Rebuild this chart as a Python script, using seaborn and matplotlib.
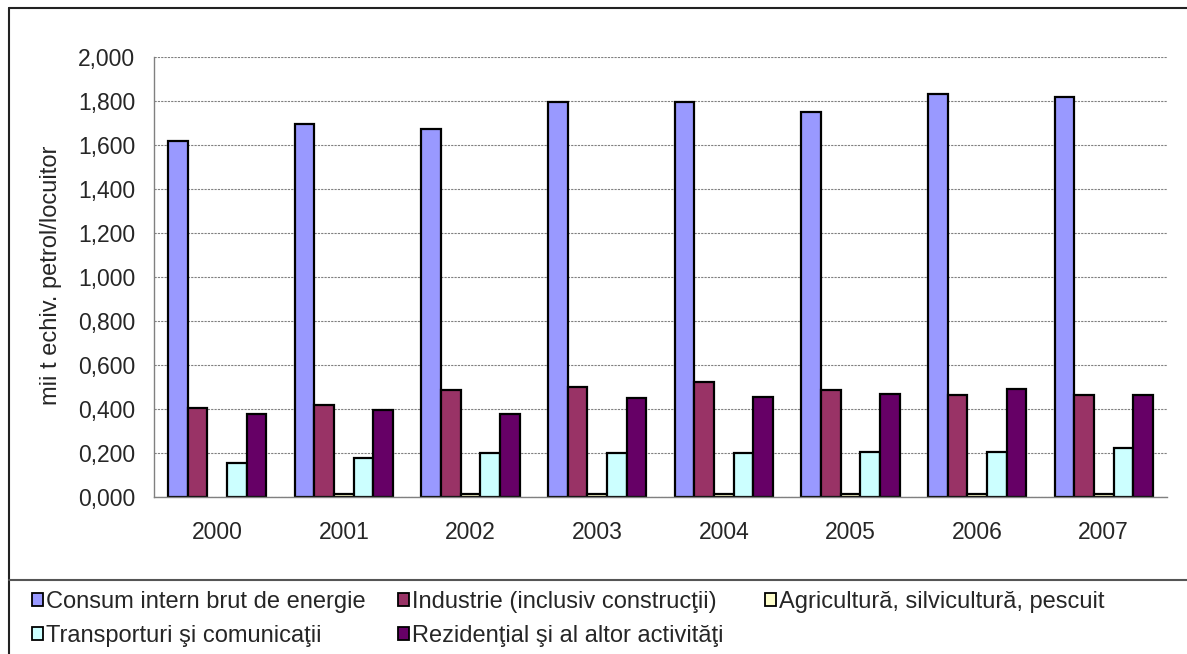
import numpy as np
import pandas as pd
import matplotlib
matplotlib.use("Agg")
import matplotlib.pyplot as plt
import matplotlib.ticker as mticker
from matplotlib.patches import Rectangle
from matplotlib.lines import Line2D
import seaborn as sns

# Data (mii t echiv. petrol / locuitor)
years = ["2000", "2001", "2002", "2003", "2004", "2005", "2006", "2007"]
series_names = [
    "Consum intern brut de energie",
    "Industrie (inclusiv construcţii)",
    "Agricultură, silvicultură, pescuit",
    "Transporturi şi comunicaţii",
    "Rezidenţial şi al altor activităţi",
]
consum = [1.620, 1.694, 1.672, 1.795, 1.797, 1.750, 1.832, 1.818]
industrie = [0.403, 0.418, 0.486, 0.501, 0.521, 0.486, 0.465, 0.465]
agricultura = [np.nan, 0.013, 0.014, 0.012, 0.012, 0.012, 0.012, 0.012]
transport = [0.155, 0.178, 0.198, 0.198, 0.201, 0.204, 0.205, 0.222]
rezidential = [0.377, 0.395, 0.377, 0.449, 0.456, 0.468, 0.493, 0.465]
colors = ["#9999FF", "#993366", "#FFFFCC", "#CCFFFF", "#660066"]

all_values = [consum, industrie, agricultura, transport, rezidential]
rows = []
for name, vals in zip(series_names, all_values):
    for y, v in zip(years, vals):
        rows.append({"An": y, "Serie": name, "Valoare": v})
df = pd.DataFrame(rows)

sns.set_style("white")
plt.rcParams["font.family"] = ["Liberation Sans", "DejaVu Sans"]

W, H = 1187, 654
fig = plt.figure(figsize=(W / 100, H / 100), dpi=100)
ax = fig.add_axes([154 / W, 1 - 497 / H, (1167 - 154) / W, (497 - 57) / H])

sns.barplot(data=df, x="An", y="Valoare", hue="Serie", hue_order=series_names,
            order=years, palette=colors, width=0.775, edgecolor="black",
            linewidth=1.6, saturation=1, ax=ax, legend=False, errorbar=None)

ax.set_ylim(0, 2.0)
ax.set_xlim(-0.5, len(years) - 0.5)
ax.yaxis.set_major_locator(mticker.MultipleLocator(0.2))
ax.yaxis.set_major_formatter(mticker.FuncFormatter(lambda v, p: f"{v:.3f}".replace(".", ",")))
ax.grid(axis="y", color="#808080", linestyle=(0, (2, 1)), linewidth=0.8)
ax.set_axisbelow(True)

# category separators as major ticks, labels as minor ticks
ax.set_xticks(np.arange(-0.5, len(years), 1.0))
ax.set_xticklabels([])
ax.set_xticks(np.arange(len(years)), minor=True)
ax.set_xticklabels(years, minor=True)
ax.tick_params(axis="x", which="major", length=5.5, width=1, color="#808080", direction="out")
ax.tick_params(axis="x", which="minor", length=0, pad=17, labelsize=16.5)
ax.tick_params(axis="y", length=6, width=1, color="#808080", direction="out", labelsize=16.5, pad=7.5)

for s in ["top", "right"]:
    ax.spines[s].set_visible(False)
for s in ["left", "bottom"]:
    ax.spines[s].set_color("#808080")
    ax.spines[s].set_linewidth(1)

ax.set_xlabel("")
ax.set_ylabel("")
fig.text(51 / W, 1 - 275 / H, "mii t echiv. petrol/locuitor", rotation=90,
         ha="center", va="center", fontsize=17)

# legend: three columns placed at their own x positions
handles = [Rectangle((0, 0), 1, 1, facecolor=c, edgecolor="black", linewidth=1.3) for c in colors]
columns = [([0, 3], 32, 619), ([1, 4], 398, 619), ([2], 765, 602)]
for idx, x0, yc in columns:
    leg = fig.legend([handles[i] for i in idx], [series_names[i] for i in idx],
                     loc="center left", bbox_to_anchor=(x0 / W, 1 - yc / H),
                     frameon=False, fontsize=17, handlelength=0.46, handleheight=0.46,
                     handletextpad=0.15, labelspacing=0.5, borderpad=0, borderaxespad=0)

# chart border and legend separator
fig.add_artist(Line2D([9 / W, 9 / W], [0, 1 - 8 / H], transform=fig.transFigure,
                      color="#222222", linewidth=1.5))
fig.add_artist(Line2D([9 / W, 1], [1 - 8 / H, 1 - 8 / H], transform=fig.transFigure,
                      color="#222222", linewidth=1.5))
fig.add_artist(Line2D([9 / W, 1], [1 - 580 / H, 1 - 580 / H], transform=fig.transFigure,
                      color="#555555", linewidth=1.5))

fig.savefig("out.png", dpi=100)
